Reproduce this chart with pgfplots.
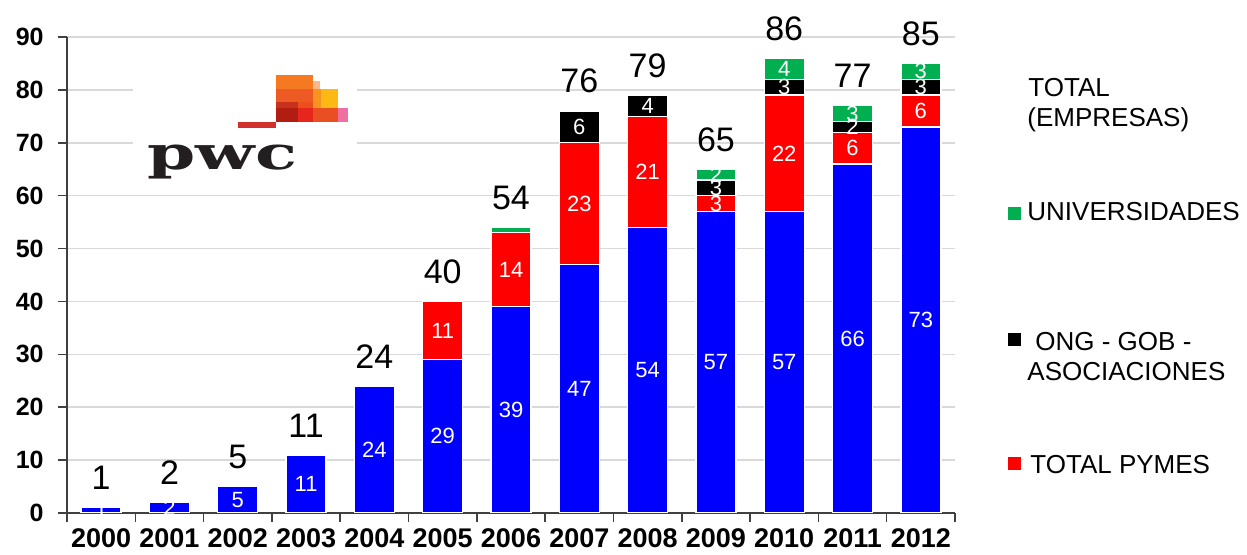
\documentclass[border=0pt]{standalone}
\usepackage{pgfplots}
\pgfplotsset{compat=1.18}
\usepackage{fontspec}
\setmainfont{Liberation Sans}
\newfontfamily\logofont{DejaVu Serif}
\definecolor{cblue}{RGB}{0,0,255}
\definecolor{cred}{RGB}{255,0,0}
\definecolor{cgreen}{RGB}{0,176,80}
\definecolor{axgray}{RGB}{64,64,64}
\definecolor{gridgray}{RGB}{217,217,217}
\definecolor{lgA}{HTML}{F47920}
\definecolor{lgB}{HTML}{F9B88A}
\definecolor{lgC}{HTML}{EE5A24}
\definecolor{lgD}{HTML}{F7931E}
\definecolor{lgE}{HTML}{FDB913}
\definecolor{lgF}{HTML}{C8321A}
\definecolor{lgG}{HTML}{EB4F1E}
\definecolor{lgH}{HTML}{B11D11}
\definecolor{lgI}{HTML}{E8251C}
\definecolor{lgJ}{HTML}{EA4E23}
\definecolor{lgK}{HTML}{EE6FA0}
\definecolor{lgL}{HTML}{D0312D}
\definecolor{lgT}{HTML}{231F20}
\begin{document}
\begin{tikzpicture}
\useasboundingbox (-33.5pt,-21pt) rectangle (590pt,256.5pt);
\begin{axis}[
  at={(0pt,0pt)}, anchor=south west,
  scale only axis, width=444pt, height=238pt,
  ybar stacked, bar width=0.585,
  xmin=-0.5, xmax=12.5, ymin=0, ymax=90,
  axis lines*=left,
  axis line style={axgray, line width=0.8pt},
  xtick={0,...,12},
  xticklabels={2000,2001,2002,2003,2004,2005,2006,2007,2008,2009,2010,2011,2012},
  minor xtick={-0.5,0.5,...,12.5},
  major x tick style={draw=none},
  minor x tick style={axgray, line width=0.8pt},
  minor tick length=4.5pt,
  ytick={0,10,...,90},
  major tick length=4.5pt,
  ytick style={axgray, line width=0.8pt},
  tick align=outside,
  /pgf/number format/assume math mode=true,
  ymajorgrids, grid style={gridgray, line width=0.8pt},
  xticklabel style={font=\bfseries\fontsize{13.5}{14}\selectfont, anchor=north, inner sep=0pt, yshift=-3pt},
  yticklabel style={font=\bfseries\fontsize{12.5}{13}\selectfont, anchor=east, inner sep=0pt, xshift=-7pt},
  every axis plot/.append style={draw=white, line width=0.7pt},
]
\addplot[fill=cblue] coordinates {(0,1) (1,2) (2,5) (3,11) (4,24) (5,29) (6,39) (7,47) (8,54) (9,57) (10,57) (11,66) (12,73)};
\addplot[fill=cred] coordinates {(0,0) (1,0) (2,0) (3,0) (4,0) (5,11) (6,14) (7,23) (8,21) (9,3) (10,22) (11,6) (12,6)};
\addplot[fill=black] coordinates {(0,0) (1,0) (2,0) (3,0) (4,0) (5,0) (6,0) (7,6) (8,4) (9,3) (10,3) (11,2) (12,3)};
\addplot[fill=cgreen] coordinates {(0,0) (1,0) (2,0) (3,0) (4,0) (5,0) (6,1) (7,0) (8,0) (9,2) (10,4) (11,3) (12,3)};
\end{axis}
\begin{axis}[
  at={(0pt,0pt)}, anchor=south west,
  scale only axis, width=444pt, height=238pt,
  xmin=-0.5, xmax=12.5, ymin=0, ymax=90,
  hide axis, clip=false,
]
\addplot[draw=none, nodes near coords, point meta=explicit symbolic,
  every node near coord/.append style={anchor=center, inner sep=0pt, text=white, font=\fontsize{11}{12}\selectfont}]
  coordinates {
  (0,0.5)[1] (1,1)[2] (2,2.5)[5] (3,5.5)[11] (4,12)[24] (5,14.5)[29] (6,19.5)[39]
  (7,23.5)[47] (8,27)[54] (9,28.5)[57] (10,28.5)[57] (11,33)[66] (12,36.5)[73]
  (5,34.5)[11] (6,46)[14] (7,58.5)[23] (8,64.5)[21] (9,58.5)[3] (10,68)[22] (11,69)[6] (12,76)[6]
  (7,73)[6] (8,77)[4] (9,61.5)[3] (10,80.5)[3] (11,73)[2] (12,80.5)[3]
  (9,64)[2] (10,84)[4] (11,75.5)[3] (12,83.5)[3]
  };
\addplot[draw=none, nodes near coords, point meta=explicit symbolic,
  every node near coord/.append style={anchor=south, inner sep=0pt, yshift=8.7pt, text=black, font=\fontsize{17}{18}\selectfont}]
  coordinates {
  (0,1)[1] (1,2)[2] (2,5)[5] (3,11)[11] (4,24)[24] (5,40)[40] (6,54)[54]
  (7,76)[76] (8,79)[79] (9,65)[65] (10,86)[86] (11,77)[77] (12,85)[85]
  };
\end{axis}
\begin{scope}[x=0.5pt, y=-0.5pt, shift={(-33.5pt,256.5pt)}]
  % legend
  \tikzset{legtxt/.style={anchor=base west, inner sep=0pt, font=\fontsize{13}{15}\selectfont}}
  \node[legtxt] at (1028,97) {TOTAL};
  \node[legtxt] at (1027,126.5) {(EMPRESAS)};
  \fill[cgreen] (1008,207.5) rectangle (1021,220.5);
  \node[legtxt] at (1027,221) {UNIVERSIDADES};
  \fill[black] (1008,333.5) rectangle (1021,346.5);
  \node[legtxt] at (1035,351) {ONG - GOB -};
  \node[legtxt] at (1027,381) {ASOCIACIONES};
  \fill[cred] (1008,457) rectangle (1021,470);
  \node[legtxt] at (1030,474) {TOTAL PYMES};
  % logo
  \fill[white] (133,65) rectangle (357,190);
  \fill[lgA] (275.7,75) rectangle (312.7,89.3);
  \fill[lgB] (312.7,80.7) rectangle (320,89.3);
  \fill[lgC] (275.7,89.3) rectangle (312.7,101.7);
  \fill[lgD] (312.7,89.3) rectangle (320.7,108.3);
  \fill[lgE] (320.7,89.3) rectangle (338.3,108.3);
  \fill[lgF] (275.7,101.7) rectangle (298.3,108.3);
  \fill[lgG] (298.3,101.7) rectangle (312.7,108.3);
  \fill[lgH] (275.7,108.3) rectangle (298.3,121.7);
  \fill[lgI] (298.3,108.3) rectangle (312.7,121.7);
  \fill[lgJ] (312.7,108.3) rectangle (338.3,121.7);
  \fill[lgK] (338.3,108.3) rectangle (348.3,121.7);
  \fill[lgL] (238.3,121.7) rectangle (275.7,128.3);
  \node[anchor=base west, inner sep=0pt, xscale=1.5, text=lgT, font=\logofont\bfseries\fontsize{23}{25}\selectfont] at (147,170) {pwc};
\end{scope}
\end{tikzpicture}
\end{document}
